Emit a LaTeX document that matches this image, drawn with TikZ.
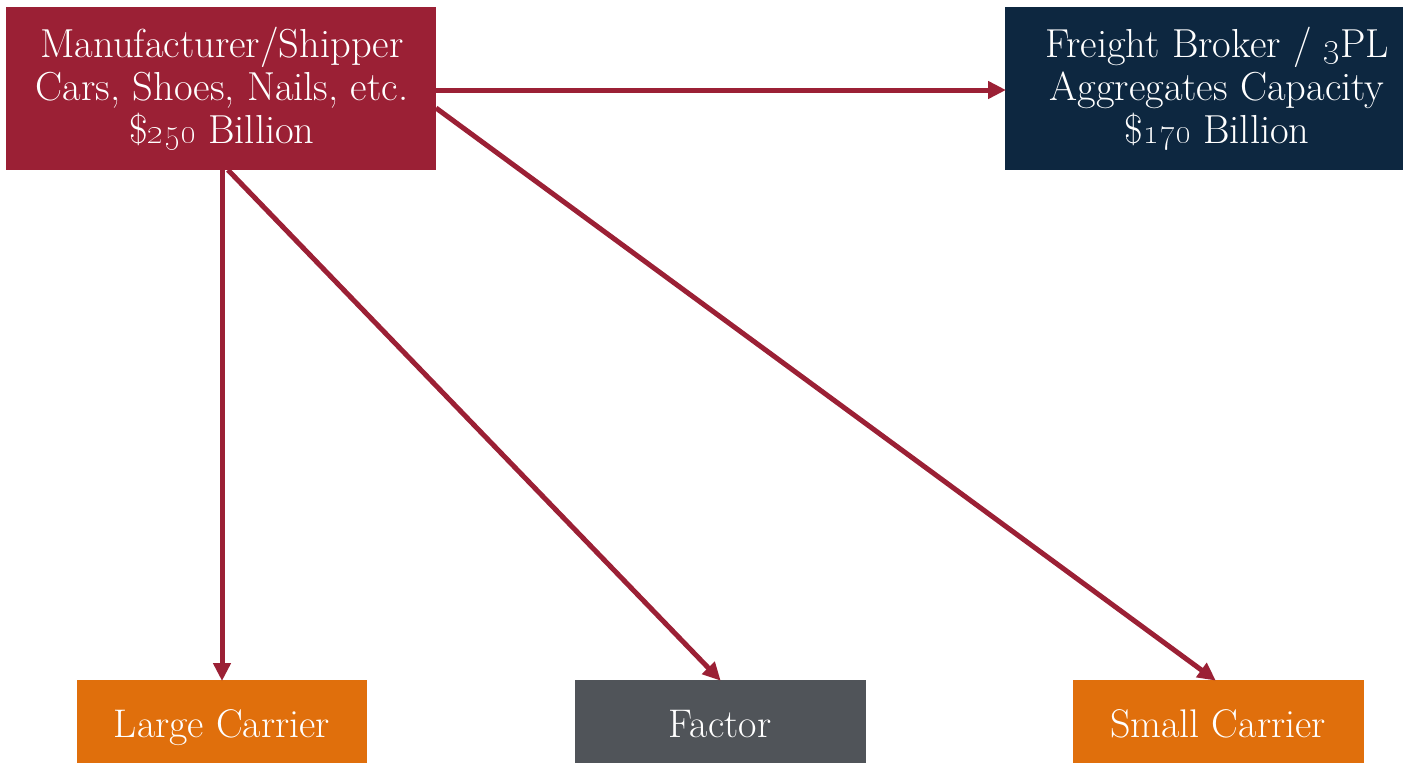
\documentclass[tikz,border=0pt]{standalone}
\usetikzlibrary{arrows.meta}
\definecolor{mfr}{HTML}{9B2035}
\definecolor{navy}{HTML}{0D2740}
\definecolor{orng}{HTML}{E06F0C}
\definecolor{slate}{HTML}{505459}
\begin{document}
\begin{tikzpicture}[x=1pt,y=-1pt,
  box/.style={fill=#1, draw=none, inner sep=0pt, anchor=north west},
  txt/.style={text=white, align=center, font=\fontsize{40.5}{43}\selectfont},
  btxt/.style={text=white, align=center, anchor=base, font=\fontsize{40}{43}\selectfont},
  conn/.style={draw=mfr, line width=5pt, -{Triangle[length=18pt,width=17pt]}, shorten >=-1pt}]
\useasboundingbox (0,0) rectangle (1403,763);
\clip (0,0) rectangle (1403,763);
% boxes
\node[box=mfr, minimum width=430pt, minimum height=163pt] (mfr) at (6,7) {};
\node[box=navy, minimum width=430pt, minimum height=163pt] (broker) at (1005,7) {};
\node[box=orng, minimum width=290pt, minimum height=100pt] (large) at (77,680) {};
\node[box=slate, minimum width=291pt, minimum height=100pt] (factor) at (575,680) {};
\node[box=orng, minimum width=291pt, minimum height=100pt] (small) at (1073,680) {};
% texts
\node[txt] (mfrtext) at (222,89) {Manufacturer/Shipper\\Cars, Shoes, Nails, etc.\\\$\oldstylenums{250} Billion};
\node[txt] (brokertext) at (1217,89) {Freight Broker / \oldstylenums{3}PL\\Aggregates Capacity\\\$\oldstylenums{170} Billion};
\node[btxt] (largetext) at (222,737) {Large Carrier};
\node[btxt] (factortext) at (720,737) {Factor};
\node[btxt] (smalltext) at (1218,737) {Small Carrier};
% connectors
\coordinate (mfrR) at (436,90);
\coordinate (mfrR2) at (436,108);
\coordinate (mfrB1) at (222,170);
\coordinate (mfrB2) at (228,170);
\coordinate (largeT) at (222,680);
\coordinate (factorT) at (720,680);
\coordinate (smallT) at (1215,680);
\coordinate (brokerL) at (1005,90);
\draw[conn] (mfrR) -- (brokerL);
\draw[conn] (mfrB1) -- (largeT);
\draw[conn] (mfrB2) -- (factorT);
\draw[conn] (mfrR2) -- (smallT);
\end{tikzpicture}
\end{document}
